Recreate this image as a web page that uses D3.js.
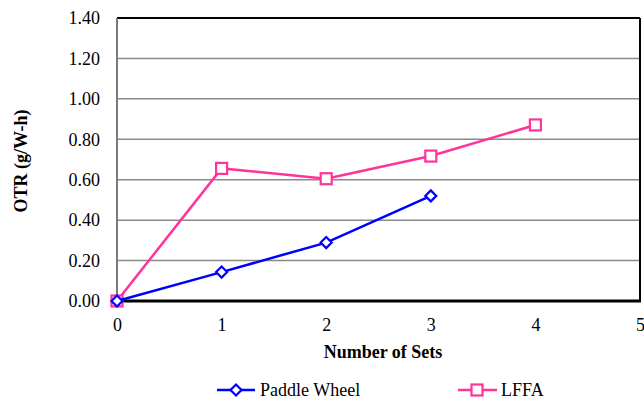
<!DOCTYPE html>
<html><head><meta charset="utf-8">
<script src="https://cdn.jsdelivr.net/npm/d3@7"></script>
</head><body style="margin:0">
<svg id="c" width="644" height="400" font-family="Liberation Serif"></svg>
<script>
const xValues = [0, 1, 2, 3, 4];
const paddleWheel = [0.00, 0.143, 0.289, 0.52];
const lffa = [0.00, 0.656, 0.605, 0.717, 0.871];
const yTicks = [0, 0.2, 0.4, 0.6, 0.8, 1.0, 1.2, 1.4];
const xTicks = [0, 1, 2, 3, 4, 5];
const seriesNames = ["Paddle Wheel", "LFFA"];

const svg = d3.select("#c");
const L = 117, R = 640, T = 18, B = 301;
const x = d3.scaleLinear().domain([0, 5]).range([L, R]);
const y = d3.scaleLinear().domain([0, 1.4]).range([B, T]);
const blue = "#0000ff", pink = "#ff3399";

function styleText(sel, bold) {
  sel.style("font-family", '"Liberation Serif"').attr("font-size", 18).attr("fill", "#000");
  if (bold) sel.attr("font-weight", "bold");
  return sel;
}

// gridlines
svg.append("g").selectAll("line").data(yTicks.slice(1, -1)).join("line")
  .attr("x1", L).attr("x2", R).attr("y1", d => y(d)).attr("y2", d => y(d))
  .attr("stroke", "#8a8a8a").attr("stroke-width", 1.5);

// frame
svg.append("line").attr("x1", L).attr("x2", R).attr("y1", T).attr("y2", T).attr("stroke", "#000").attr("stroke-width", 2);
svg.append("line").attr("x1", R).attr("x2", R).attr("y1", T).attr("y2", B).attr("stroke", "#000").attr("stroke-width", 2);
svg.append("line").attr("x1", L).attr("x2", L).attr("y1", T).attr("y2", B).attr("stroke", "#7a7a7a").attr("stroke-width", 2);

// y axis labels
const gy = svg.append("g").attr("transform", `translate(${L},0)`)
  .call(d3.axisLeft(y).tickValues(yTicks).tickFormat(d3.format(".2f")).tickSize(0).tickPadding(17));
gy.attr("font-family", "Liberation Serif").attr("font-size", 18);
gy.select(".domain").remove();
styleText(gy.selectAll("text"));

// x axis
const gx = svg.append("g").attr("transform", `translate(0,${B})`)
  .call(d3.axisBottom(x).tickValues(xTicks).tickFormat(d3.format("d")).tickSize(0).tickPadding(17));
gx.attr("font-family", "Liberation Serif").attr("font-size", 18);
gx.select(".domain").remove();
styleText(gx.selectAll("text"));
svg.append("line").attr("x1", L - 1).attr("x2", R + 1).attr("y1", B).attr("y2", B).attr("stroke", "#000").attr("stroke-width", 3);

// titles
styleText(svg.append("text").attr("x", 383).attr("y", 358).attr("text-anchor", "middle"), true).text("Number of Sets");
styleText(svg.append("text").attr("transform", "translate(27,161) rotate(-90)").attr("text-anchor", "middle"), true).text("OTR (g/W-h)");

const line = d3.line().x((d, i) => x(xValues[i])).y(d => y(d));

function diamond(g, cx, cy, col) {
  g.append("path").attr("d", `M${cx},${cy - 5.5}L${cx + 5.5},${cy}L${cx},${cy + 5.5}L${cx - 5.5},${cy}Z`)
    .attr("fill", "#fff").attr("stroke", col).attr("stroke-width", 2.2);
}
function square(g, cx, cy, col) {
  g.append("rect").attr("x", cx - 5.5).attr("y", cy - 5.5).attr("width", 11).attr("height", 11)
    .attr("fill", "#fff").attr("stroke", col).attr("stroke-width", 2.2);
}

// LFFA
const gl = svg.append("g");
gl.append("path").datum(lffa).attr("d", line).attr("fill", "none").attr("stroke", pink).attr("stroke-width", 2.5);
lffa.forEach((v, i) => square(gl, x(xValues[i]), y(v), pink));

// Paddle Wheel
const gp = svg.append("g");
gp.append("path").datum(paddleWheel).attr("d", line).attr("fill", "none").attr("stroke", blue).attr("stroke-width", 2.5);
paddleWheel.forEach((v, i) => diamond(gp, x(xValues[i]), y(v), blue));

// legend
const leg = svg.append("g");
const ly = 390;
leg.append("line").attr("x1", 217).attr("x2", 255).attr("y1", ly).attr("y2", ly).attr("stroke", blue).attr("stroke-width", 2.5);
diamond(leg, 236, ly, blue);
styleText(leg.append("text").attr("x", 260).attr("y", ly + 6)).text(seriesNames[0]);
leg.append("line").attr("x1", 458).attr("x2", 497).attr("y1", ly).attr("y2", ly).attr("stroke", pink).attr("stroke-width", 2.5);
square(leg, 477, ly, pink);
styleText(leg.append("text").attr("x", 501).attr("y", ly + 6)).text(seriesNames[1]);
</script>
</body></html>
